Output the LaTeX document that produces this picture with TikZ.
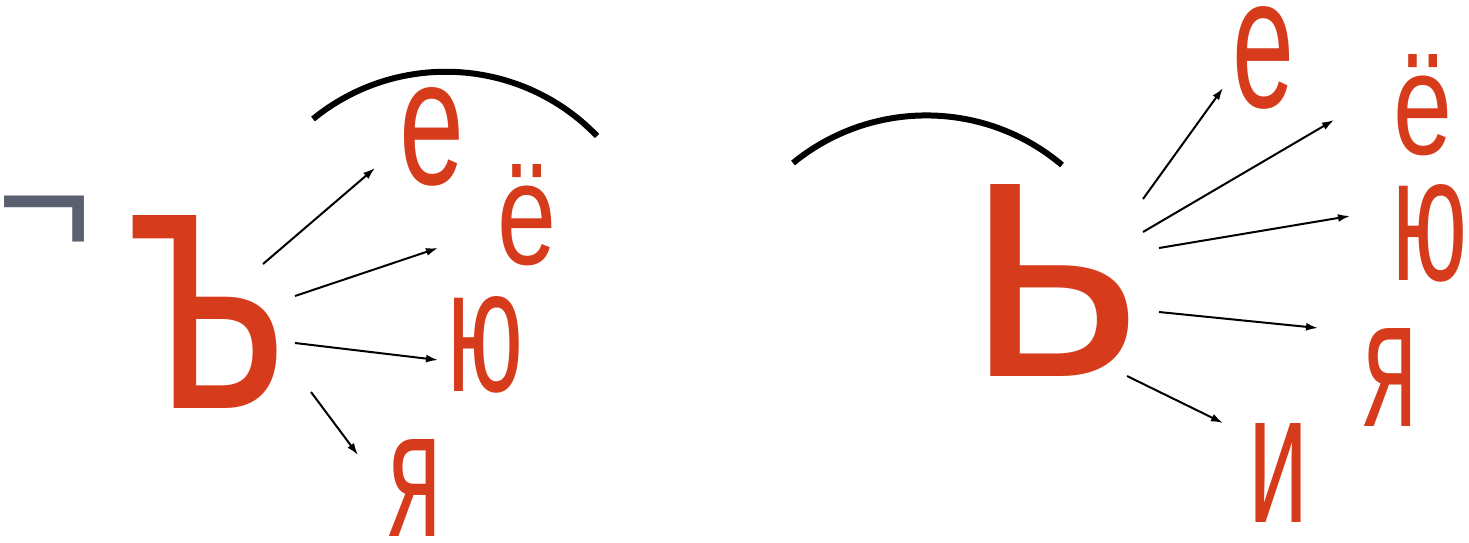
\documentclass[tikz,border=0pt]{standalone}
\usepackage{fontspec}
\usepackage{graphicx}
\usetikzlibrary{arrows.meta}
\newfontfamily\lf{Liberation Sans}
\definecolor{lmid}{HTML}{D63C1C}
\definecolor{neggrey}{HTML}{5A6070}
\newcommand\glyphbox[3]{\resizebox{#1}{#2}{\lf\fontsize{50}{50}\selectfont #3}}
\tikzset{
  glyph/.style={inner sep=0pt, outer sep=0pt, text=lmid},
  arr/.style={line width=1pt, -{Latex[length=6pt,width=4pt]}},
  brow/.style={line width=3pt},
}
\newcommand\gletter[6]{%
  \node[glyph] (#1) at (#2,#3) {\glyphbox{#4}{#5}{#6}};}
\begin{document}
\begin{tikzpicture}[x=0.5pt,y=-0.5pt]
\useasboundingbox (0,0) rectangle (1469,542);
% grey sign
\node[inner sep=0pt, anchor=north, text=neggrey] (neg) at (44.5,196)
  {\resizebox{48pt}{!}{\lf ¬}};
% letters left
\gletter{hard}{207}{311.5}{80pt}{96.5pt}{ъ}
\gletter{le}{432.5}{136.5}{32.5pt}{48.5pt}{е}
\gletter{lyo}{527}{215}{29.5pt}{50pt}{ё}
\gletter{lyu}{485.5}{344.5}{38pt}{47.5pt}{ю}
\gletter{lya}{414.5}{487.5}{26.5pt}{48.5pt}{я}
% letters right
\gletter{soft}{1055}{280}{87.5pt}{96pt}{ь}
\gletter{re}{1263.5}{57.5}{31pt}{50.5pt}{е}
\gletter{ryo}{1423}{105}{29.5pt}{50pt}{ё}
\gletter{ryu}{1430}{233}{37.5pt}{48pt}{ю}
\gletter{rya}{1390}{377}{27pt}{49pt}{я}
\gletter{ri}{1278}{472.5}{30pt}{49.5pt}{и}
% arcs
\coordinate (a1s) at (313,119);
\coordinate (a1e) at (597,136);
\coordinate (a2s) at (793,163);
\coordinate (a2e) at (1062,165);
\draw[brow] (a1s) .. controls (397.6,50) and (521.3,57.3) .. (a1e);
\draw[brow] (a2s) .. controls (871.4,98.9) and (984.6,99.6) .. (a2e);
% arrows left
\coordinate (h1) at (263,264); \coordinate (t1) at (375,168);
\coordinate (h2) at (295,296); \coordinate (t2) at (438,248);
\coordinate (h3) at (295,343); \coordinate (t3) at (438,360);
\coordinate (h4) at (311,392); \coordinate (t4) at (358,455);
\draw[arr] (h1) -- (t1);
\draw[arr] (h2) -- (t2);
\draw[arr] (h3) -- (t3);
\draw[arr] (h4) -- (t4);
% arrows right
\coordinate (s1) at (1143,199); \coordinate (u1) at (1223,88);
\coordinate (s2) at (1143,232); \coordinate (u2) at (1334,120);
\coordinate (s3) at (1159,248); \coordinate (u3) at (1350,216);
\coordinate (s4) at (1159,312); \coordinate (u4) at (1318,328);
\coordinate (s5) at (1127,376); \coordinate (u5) at (1223,423);
\draw[arr] (s1) -- (u1);
\draw[arr] (s2) -- (u2);
\draw[arr] (s3) -- (u3);
\draw[arr] (s4) -- (u4);
\draw[arr] (s5) -- (u5);
\end{tikzpicture}
\end{document}
